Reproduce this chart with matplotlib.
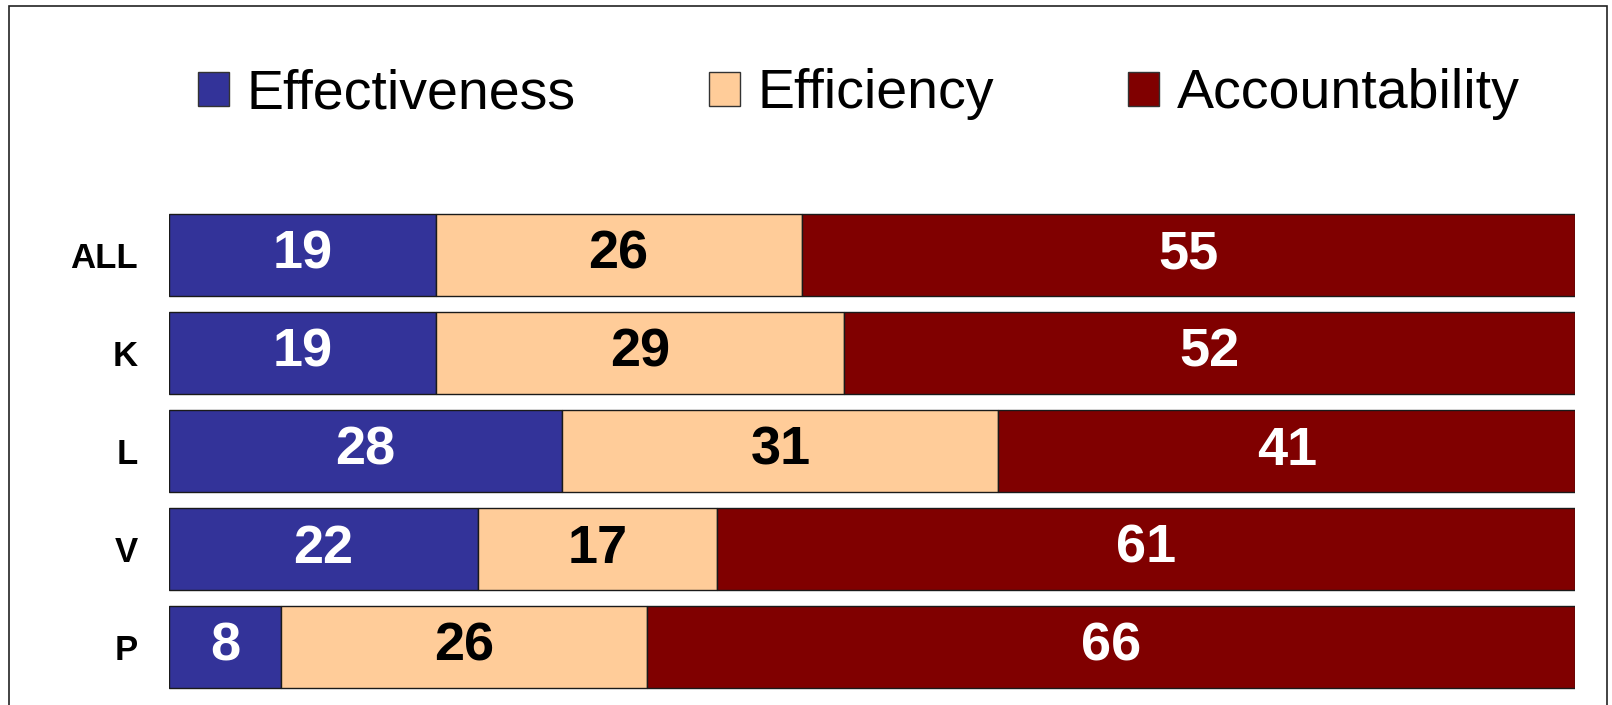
import matplotlib
matplotlib.use("Agg")
import matplotlib.pyplot as plt
from matplotlib.patches import Rectangle, Patch
import numpy as np

plt.rcParams['font.family'] = ['Liberation Sans', 'DejaVu Sans']

groups = ["ALL", "K", "L", "V", "P"]
series = ["Effectiveness", "Efficiency", "Accountability"]
effectiveness = [19, 19, 28, 22, 8]
efficiency = [26, 29, 31, 17, 26]
accountability = [55, 52, 41, 61, 66]

colors = ["#333399", "#FFCC99", "#800000"]
text_colors = ["white", "black", "white"]

fig = plt.figure(figsize=(16.12, 7.05), dpi=100)
ax = fig.add_axes([0.1046, 0.0128, 0.8725, 0.695])

y = np.arange(len(groups))
left = np.zeros(len(groups))
for vals, col, tcol, name in zip([effectiveness, efficiency, accountability], colors, text_colors, series):
    vals = np.array(vals, dtype=float)
    ax.barh(y, vals, left=left, height=0.837, color=col, edgecolor="#1a1a1a",
            linewidth=1.0, label=name)
    for yi, l, v in zip(y, left, vals):
        ax.text(l + v / 2, yi, f"{int(v)}", ha="center", va="center",
                color=tcol, fontsize=39, fontweight="bold")
    left += vals

ax.set_xlim(0, 100)
ax.set_ylim(4.5, -0.5)
ax.set_yticks(y)
ax.set_yticklabels(groups, fontsize=25, fontweight="bold")
ax.tick_params(axis="y", length=0, pad=22)
ax.set_xticks([])
for s in ax.spines.values():
    s.set_visible(False)

handles = [Patch(facecolor=c, edgecolor="#333333", linewidth=1.0) for c in colors]
fig.legend(handles, series, loc="center", bbox_to_anchor=(0.5326, 0.866), ncol=3,
           frameon=False, fontsize=40, handlelength=0.56, handleheight=0.56,
           handletextpad=0.32, columnspacing=2.4)

fig.add_artist(Rectangle((9 / 1612, -0.02), 1598 / 1612, 1.02 - 6 / 705,
                         transform=fig.transFigure, fill=False,
                         edgecolor="#222222", linewidth=1.2))

fig.savefig("out.png", dpi=100)
